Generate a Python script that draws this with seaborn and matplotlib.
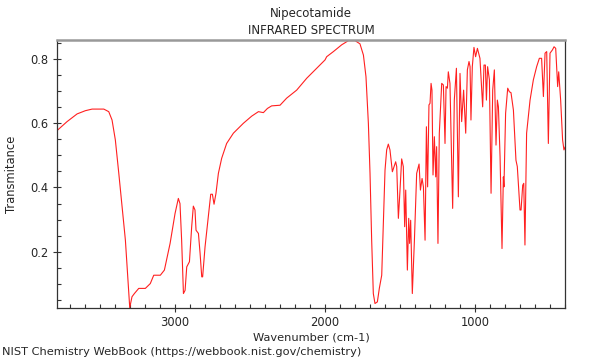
import matplotlib
matplotlib.use("Agg")
import matplotlib.pyplot as plt
import seaborn as sns
import pandas as pd
from matplotlib.ticker import MultipleLocator, FixedLocator

wavenumber = [
    3787, 3720, 3653, 3598, 3553, 3475, 3442, 3420, 3398, 3375, 3353, 3331, 3315, 3302,
    3287, 3271, 3242, 3198, 3165, 3142, 3098, 3071, 3033, 3000, 2978, 2967, 2956, 2944,
    2933, 2922, 2904, 2889, 2878, 2867, 2860, 2844, 2833, 2822, 2816, 2800, 2778, 2762,
    2751, 2740, 2727, 2711, 2689, 2656, 2611, 2544, 2489, 2444, 2411, 2384, 2356, 2300,
    2256, 2189, 2122, 2056, 2000, 1989, 1944, 1889, 1844, 1800, 1767, 1744, 1727, 1711,
    1700, 1689, 1678, 1667, 1651, 1638, 1622, 1611, 1600, 1589, 1578, 1567, 1551, 1540,
    1529, 1522, 1511, 1500, 1489, 1478, 1469, 1462, 1451, 1442, 1436, 1429, 1418, 1404,
    1389, 1373, 1364, 1353, 1344, 1333, 1324, 1316, 1307, 1300, 1293, 1287, 1280, 1271,
    1262, 1256, 1247, 1238, 1222, 1211, 1200, 1193, 1184, 1178, 1167, 1149, 1138, 1124,
    1111, 1100, 1089, 1076, 1062, 1051, 1040, 1033, 1027, 1018, 1007, 996, 984, 967,
    949, 940, 931, 924, 916, 904, 893, 882, 871, 860, 851, 844, 833, 820, 811, 807,
    796, 782, 771, 760, 744, 727, 718, 700, 693, 682, 675, 667, 656, 633, 611, 589,
    571, 556, 544, 533, 522, 511, 500, 484, 473, 462, 449, 442, 429, 416, 407, 398,
]
transmittance = [
    0.577, 0.605, 0.629, 0.639, 0.644, 0.644, 0.636, 0.610, 0.548, 0.444, 0.340, 0.236, 0.122, 0.026,
    0.060, 0.070, 0.086, 0.086, 0.101, 0.127, 0.127, 0.143, 0.226, 0.319, 0.366, 0.350, 0.236, 0.070,
    0.080, 0.153, 0.169, 0.278, 0.342, 0.330, 0.267, 0.257, 0.195, 0.122, 0.122, 0.215, 0.309, 0.379,
    0.379, 0.348, 0.382, 0.444, 0.491, 0.537, 0.569, 0.600, 0.622, 0.636, 0.633, 0.646, 0.654, 0.656,
    0.678, 0.703, 0.740, 0.771, 0.797, 0.807, 0.823, 0.844, 0.857, 0.857, 0.847, 0.812, 0.745, 0.600,
    0.444, 0.236, 0.070, 0.039, 0.044, 0.086, 0.127, 0.288, 0.454, 0.517, 0.535, 0.517, 0.449, 0.465,
    0.480, 0.465, 0.304, 0.392, 0.489, 0.465, 0.278, 0.392, 0.143, 0.304, 0.226, 0.298, 0.070, 0.236,
    0.444, 0.473, 0.392, 0.428, 0.402, 0.236, 0.589, 0.402, 0.657, 0.662, 0.724, 0.703, 0.439, 0.558,
    0.433, 0.527, 0.226, 0.569, 0.724, 0.719, 0.537, 0.714, 0.709, 0.760, 0.724, 0.335, 0.672, 0.771,
    0.371, 0.755, 0.605, 0.703, 0.569, 0.766, 0.792, 0.776, 0.610, 0.776, 0.836, 0.807, 0.833, 0.802,
    0.651, 0.781, 0.781, 0.672, 0.776, 0.735, 0.382, 0.703, 0.766, 0.532, 0.672, 0.651, 0.496, 0.210, 0.433, 0.402,
    0.631, 0.709, 0.698, 0.695, 0.641, 0.485, 0.465, 0.330, 0.330, 0.407, 0.413, 0.221, 0.569, 0.672, 0.735, 0.776,
    0.802, 0.802, 0.683, 0.818, 0.823, 0.537, 0.818, 0.828, 0.838, 0.833, 0.714, 0.760, 0.672, 0.548, 0.517, 0.527,
]
x_ticks = [3000, 2000, 1000]
y_ticks = [0.2, 0.4, 0.6, 0.8]

df = pd.DataFrame({"Wavenumber": wavenumber, "Transmittance": transmittance})

sns.set_style("ticks")
plt.rcParams["font.family"] = ["DejaVu Sans"]

fig = plt.figure(figsize=(6, 3.6), dpi=100)
ax = fig.add_axes([57 / 600, 1 - 308 / 360, (565 - 57) / 600, (308 - 40) / 360])

sns.lineplot(data=df, x="Wavenumber", y="Transmittance", sort=False,
             color="#ff2020", linewidth=0.8, ax=ax)

ax.set_xlim(3787, 400)
ax.set_ylim(0.025, 0.859)

ax.xaxis.set_major_locator(FixedLocator(x_ticks))
ax.xaxis.set_minor_locator(MultipleLocator(100))
ax.yaxis.set_major_locator(FixedLocator(y_ticks))
ax.yaxis.set_minor_locator(MultipleLocator(0.05))
ax.set_xticklabels([str(t) for t in x_ticks])
ax.set_yticklabels([f"{t:.1f}" for t in y_ticks])

ax.tick_params(which="major", direction="inout", length=6, width=0.8,
               color="#333333", labelsize=8.3, pad=3)
ax.tick_params(which="minor", direction="in", length=3, width=0.8, color="#333333")
ax.tick_params(top=False, right=False, which="both")

for side in ["left", "bottom", "right"]:
    ax.spines[side].set_visible(True)
    ax.spines[side].set_color("#333333")
    ax.spines[side].set_linewidth(0.9)
ax.spines["top"].set_visible(True)
ax.spines["top"].set_color("#999999")
ax.spines["top"].set_linewidth(1.8)

ax.set_xlabel("Wavenumber (cm-1)", fontsize=8.2, labelpad=2)
ax.set_ylabel("Transmitance", fontsize=8.3, labelpad=9)

fig.text(311 / 600, 1 - 13 / 360, "Nipecotamide", ha="center", va="center", fontsize=8.5)
fig.text(311 / 600, 1 - 30 / 360, "INFRARED SPECTRUM", ha="center", va="center", fontsize=8.5)
fig.text(2 / 600, 1 - 352 / 360, "NIST Chemistry WebBook (https://webbook.nist.gov/chemistry)",
         ha="left", va="center", fontsize=8.2)

fig.savefig("out.png", dpi=100)
